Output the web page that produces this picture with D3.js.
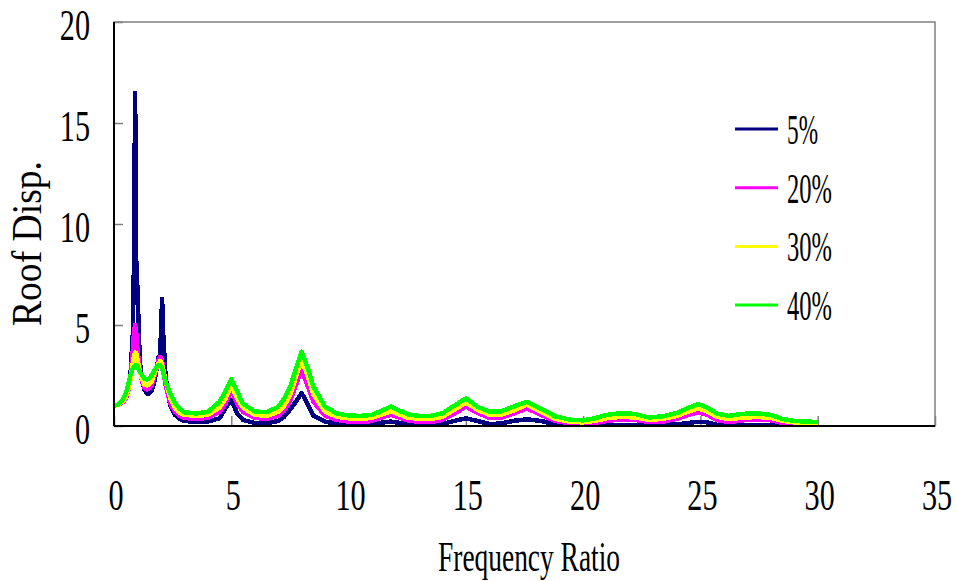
<!DOCTYPE html>
<html>
<head>
<meta charset="utf-8">
<script src="https://cdn.jsdelivr.net/npm/d3@7"></script>
<style>
  html, body { margin: 0; padding: 0; background: #fff; }
  svg { display: block; }
  text { font-family: "Liberation Serif", "DejaVu Serif", serif; fill: #000; }
</style>
</head>
<body>
<div id="chart"></div>
<script>
// frequency ratio samples shared by all series
const freq = [0, 0.2, 0.4, 0.5, 0.6, 0.7, 0.8, 0.85, 0.9, 0.95, 1.0, 1.1, 1.2, 1.3, 1.4, 1.5, 1.6, 1.7, 1.8, 1.9, 1.95, 2.0, 2.05, 2.1, 2.2, 2.4, 2.6, 2.8, 3.0, 3.5, 4.0, 4.5, 4.75, 5.0, 5.25, 5.5, 6.0, 6.5, 7.0, 7.25, 7.5, 7.75, 8.0, 8.25, 8.5, 9.0, 9.5, 10, 10.5, 11, 11.5, 11.8, 12.2, 12.5, 13, 13.5, 14, 14.5, 15, 15.5, 16, 16.5, 17, 17.6, 18.2, 18.8, 19.5, 20, 20.5, 21, 21.6, 22.2, 22.8, 23.4, 24, 24.5, 24.9, 25.3, 25.7, 26.2, 26.8, 27.4, 28, 28.5, 29, 29.5, 30];

const disp5 = [1.0, 1.05, 1.2, 1.35, 1.7, 2.5, 4.5, 8.0, 16.5, 8.0, 6.8, 3.2, 2.2, 1.8, 1.6, 1.6, 1.75, 2.1, 2.7, 3.4, 3.5, 4.5, 6.3, 4.5, 2.4, 1.0, 0.55, 0.35, 0.25, 0.2, 0.22, 0.38, 0.87, 1.29, 0.63, 0.3, 0.15, 0.13, 0.25, 0.45, 0.8, 1.2, 1.63, 1.1, 0.5, 0.21, 0.12, 0.1, 0.08, 0.1, 0.18, 0.22, 0.15, 0.08, 0.05, 0.05, 0.1, 0.25, 0.38, 0.25, 0.1, 0.12, 0.25, 0.33, 0.25, 0.08, 0.04, 0.04, 0.04, 0.05, 0.06, 0.05, 0.04, 0.05, 0.08, 0.15, 0.21, 0.18, 0.06, 0.04, 0.05, 0.05, 0.04, 0.04, 0.04, 0.04, 0.04];

const disp20 = [1.0, 1.05, 1.2, 1.35, 1.7, 2.4, 3.7, 4.6, 5.0, 4.6, 3.8, 2.8, 2.2, 1.9, 1.8, 1.85, 2.0, 2.35, 2.8, 3.25, 3.4, 3.4, 3.2, 2.8, 2.0, 1.1, 0.7, 0.5, 0.4, 0.35, 0.4, 0.7, 1.1, 1.78, 1.1, 0.7, 0.4, 0.35, 0.5, 0.75, 1.2, 2.0, 2.77, 2.0, 1.2, 0.5, 0.3, 0.22, 0.2, 0.25, 0.45, 0.55, 0.4, 0.28, 0.2, 0.2, 0.3, 0.6, 0.96, 0.65, 0.4, 0.4, 0.6, 0.87, 0.55, 0.25, 0.12, 0.1, 0.15, 0.25, 0.33, 0.3, 0.2, 0.22, 0.35, 0.55, 0.68, 0.55, 0.3, 0.2, 0.28, 0.33, 0.28, 0.15, 0.1, 0.08, 0.08];

const disp30 = [1.0, 1.05, 1.25, 1.4, 1.75, 2.3, 3.1, 3.45, 3.65, 3.6, 3.3, 2.7, 2.3, 2.05, 2.0, 2.05, 2.2, 2.5, 2.85, 3.1, 3.2, 3.2, 3.05, 2.8, 2.2, 1.35, 0.9, 0.65, 0.55, 0.5, 0.55, 0.9, 1.35, 2.03, 1.35, 0.9, 0.55, 0.5, 0.7, 1.0, 1.5, 2.4, 3.27, 2.5, 1.55, 0.7, 0.45, 0.38, 0.35, 0.4, 0.6, 0.72, 0.55, 0.42, 0.35, 0.35, 0.45, 0.8, 1.15, 0.8, 0.55, 0.55, 0.75, 1.05, 0.7, 0.35, 0.2, 0.18, 0.25, 0.38, 0.45, 0.42, 0.3, 0.35, 0.5, 0.72, 0.87, 0.72, 0.45, 0.35, 0.4, 0.45, 0.4, 0.25, 0.18, 0.15, 0.14];

const disp40 = [1.0, 1.08, 1.35, 1.6, 2.0, 2.5, 2.85, 2.95, 3.0, 3.0, 2.95, 2.7, 2.5, 2.35, 2.3, 2.35, 2.5, 2.7, 2.9, 3.0, 3.0, 2.95, 2.85, 2.65, 2.2, 1.6, 1.15, 0.85, 0.68, 0.62, 0.7, 1.2, 1.7, 2.31, 1.7, 1.1, 0.72, 0.68, 0.95, 1.35, 1.9, 2.8, 3.68, 2.9, 1.95, 0.95, 0.62, 0.52, 0.5, 0.55, 0.8, 0.96, 0.75, 0.58, 0.5, 0.5, 0.63, 1.0, 1.37, 0.95, 0.72, 0.72, 0.95, 1.2, 0.85, 0.48, 0.3, 0.28, 0.38, 0.55, 0.63, 0.6, 0.42, 0.48, 0.65, 0.9, 1.09, 0.9, 0.62, 0.5, 0.6, 0.63, 0.55, 0.35, 0.25, 0.22, 0.2];

const seriesNames = ["5%", "20%", "30%", "40%"];
const seriesColors = ["#000080", "#ff00ff", "#ffff00", "#00ff00"];
const seriesValues = [disp5, disp20, disp30, disp40];

const xTicks = [0, 5, 10, 15, 20, 25, 30, 35];
const yTicks = [0, 5, 10, 15, 20];

const width = 957, height = 581;
const margin = { top: 22, right: 22, bottom: 155, left: 114 };

const svg = d3.select("#chart").append("svg")
  .attr("width", width)
  .attr("height", height);

const x = d3.scaleLinear().domain([0, 35]).range([margin.left, width - margin.right]);
const y = d3.scaleLinear().domain([0, 20]).range([height - margin.bottom, margin.top]);

// frame: grey top/right, black left/bottom
svg.append("rect")
  .attr("x", x(0)).attr("y", y(20))
  .attr("width", x(35) - x(0)).attr("height", y(0) - y(20))
  .attr("fill", "none").attr("stroke", "#808080").attr("stroke-width", 1.5);

// inward ticks
svg.append("g")
  .attr("transform", `translate(0,${y(0)})`)
  .call(d3.axisBottom(x).tickValues(xTicks).tickSizeInner(-10).tickSizeOuter(0).tickFormat(""))
  .call(g => g.select(".domain").remove())
  .call(g => g.selectAll(".tick line").attr("stroke", "#808080").attr("stroke-width", 1.5));

svg.append("g")
  .attr("transform", `translate(${x(0)},0)`)
  .call(d3.axisLeft(y).tickValues(yTicks).tickSizeInner(-9).tickSizeOuter(0).tickFormat(""))
  .call(g => g.select(".domain").remove())
  .call(g => g.selectAll(".tick line").attr("stroke", "#808080").attr("stroke-width", 1.5));

// series lines
const line = d3.line()
  .x((d, i) => x(freq[i]))
  .y(d => y(d));

svg.append("g")
  .selectAll("path")
  .data(seriesValues)
  .join("path")
  .attr("d", d => line(d))
  .attr("fill", "none")
  .attr("stroke", (d, i) => seriesColors[i])
  .attr("stroke-width", 4.5)
  .attr("stroke-linejoin", "round")
  .attr("shape-rendering", "crispEdges");

// black axis lines over the frame
svg.append("line")
  .attr("x1", x(0)).attr("x2", x(0)).attr("y1", y(20)).attr("y2", y(0))
  .attr("stroke", "#000").attr("stroke-width", 2);
svg.append("line")
  .attr("x1", x(0)).attr("x2", x(35)).attr("y1", y(0)).attr("y2", y(0))
  .attr("stroke", "#000").attr("stroke-width", 2);

// tick labels (narrow serif look)
const fs = 42;
svg.append("g")
  .selectAll("g")
  .data(yTicks)
  .join("g")
  .attr("transform", d => `translate(90,${y(d) + 18})`)
  .append("text")
  .attr("text-anchor", "end")
  .attr("font-size", fs)
  .attr("transform", "scale(0.72,1.05)")
  .text(d => d);

svg.append("g")
  .selectAll("g")
  .data(xTicks)
  .join("g")
  .attr("transform", d => `translate(${x(d) + 2},510)`)
  .append("text")
  .attr("text-anchor", "middle")
  .attr("font-size", fs)
  .attr("transform", "scale(0.72,1.05)")
  .text(d => d);

// axis titles
svg.append("text")
  .attr("x", 438).attr("y", 571)
  .attr("font-size", fs)
  .attr("textLength", 182)
  .attr("lengthAdjust", "spacingAndGlyphs")
  .text("Frequency Ratio");

svg.append("text")
  .attr("transform", "translate(41,326) rotate(-90)")
  .attr("font-size", fs)
  .attr("textLength", 165)
  .attr("lengthAdjust", "spacingAndGlyphs")
  .text("Roof Disp.");

// legend
const legend = svg.append("g")
  .selectAll("g")
  .data(seriesNames)
  .join("g")
  .attr("transform", (d, i) => `translate(735,${129 + i * 58.7})`);

legend.append("line")
  .attr("x1", 0).attr("x2", 43)
  .attr("stroke", (d, i) => seriesColors[i])
  .attr("stroke-width", 3);

legend.append("text")
  .attr("x", 52).attr("y", 15)
  .attr("font-size", fs)
  .attr("textLength", d => d.length === 2 ? 31 : 45)
  .attr("lengthAdjust", "spacingAndGlyphs")
  .text(d => d);
</script>
</body>
</html>
